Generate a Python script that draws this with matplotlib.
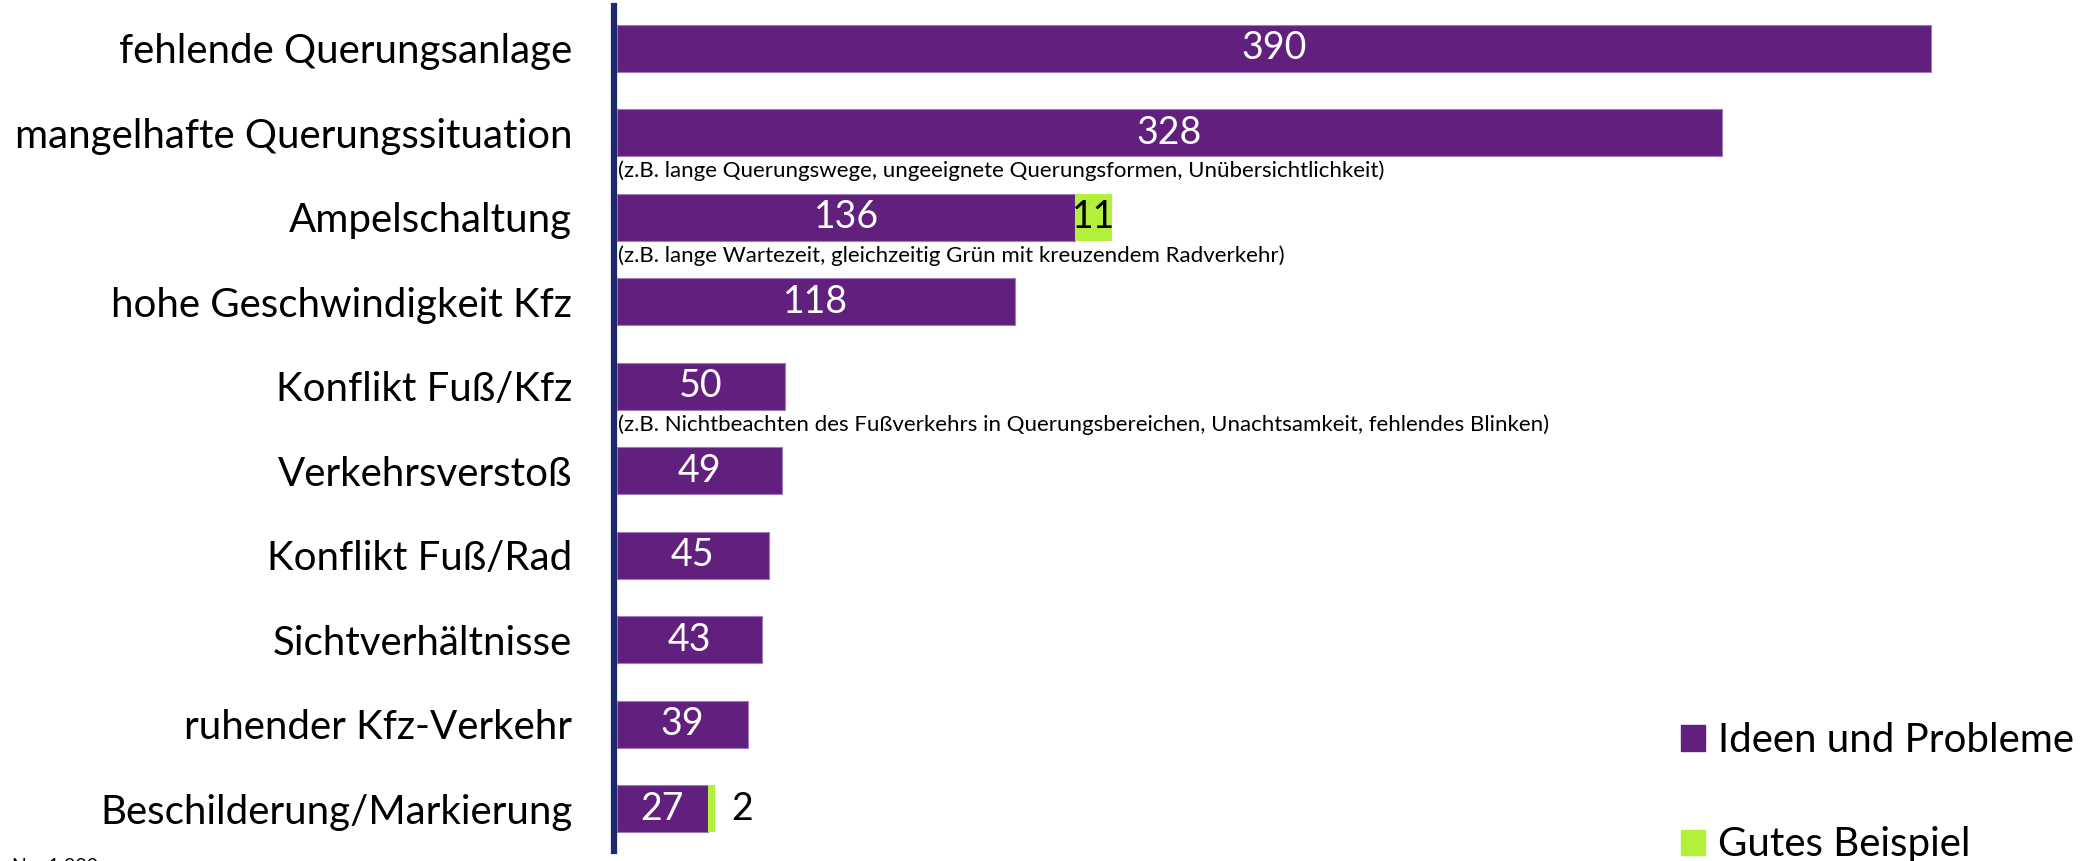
import matplotlib.pyplot as plt
from matplotlib.patches import Patch

plt.rcParams['font.family'] = ['Lato', 'DejaVu Sans']

categories = ['fehlende Querungsanlage', 'mangelhafte Querungssituation', 'Ampelschaltung',
              'hohe Geschwindigkeit Kfz', 'Konflikt Fuß/Kfz', 'Verkehrsverstoß',
              'Konflikt Fuß/Rad', 'Sichtverhältnisse', 'ruhender Kfz-Verkehr',
              'Beschilderung/Markierung']
ideas = [390, 328, 136, 118, 50, 49, 45, 43, 39, 27]
good = [0, 0, 11, 0, 0, 0, 0, 0, 0, 2]
notes = {1: '(z.B. lange Querungswege, ungeeignete Querungsformen, Unübersichtlichkeit)',
         2: '(z.B. lange Wartezeit, gleichzeitig Grün mit kreuzendem Radverkehr)',
         4: '(z.B. Nichtbeachten des Fußverkehrs in Querungsbereichen, Unachtsamkeit, fehlendes Blinken)'}

purple = '#611f7e'
green = '#b3f03a'

fig = plt.figure(figsize=(20.96, 8.61), dpi=100)
ax = fig.add_axes([0.2929, 0.0116, 0.7071, 0.9814])

y = list(range(len(categories)))
ax.barh(y, ideas, height=0.555, color=purple, edgecolor='#a27cb8', linewidth=0.8)
ax.barh(y, good, left=ideas, height=0.555, color=green, linewidth=0)

for i, (v, g) in enumerate(zip(ideas, good)):
    ax.text(v / 2, i, str(v), ha='center', va='center', color='white', fontsize=27)
    if g > 0:
        if g >= 5:
            ax.text(v + g / 2, i, str(g), ha='center', va='center', color='black', fontsize=27)
        else:
            ax.text(v + g + 5, i, str(g), ha='left', va='center', color='black', fontsize=27)

# small explanatory notes under some bars
for i, txt in notes.items():
    ax.text(0.3, i + 0.45, txt, ha='left', va='center', fontsize=16, color='black')

ax.set_xlim(-0.9, 439)
ax.set_ylim(9.5, -0.5)
ax.set_yticks(y)
ax.set_yticklabels(categories, fontsize=29)
ax.tick_params(axis='y', length=0, pad=30)
ax.set_xticks([])
for s in ['top', 'right', 'bottom']:
    ax.spines[s].set_visible(False)
ax.spines['left'].set_color('#1f2a6e')
ax.spines['left'].set_linewidth(4.5)

handles = [Patch(color=purple, label='Ideen und Probleme'),
           Patch(color=green, label='Gutes Beispiel')]
fig.legend(handles=handles, loc='lower right', bbox_to_anchor=(1.007, -0.045), frameon=False,
           fontsize=29, handlelength=0.6, handleheight=0.6, handletextpad=0.33, labelspacing=1.67)

fig.text(12 / 2096, 0.0035, 'N = 1.000', fontsize=14, va='top', ha='left')

fig.savefig('out.png', dpi=100)
